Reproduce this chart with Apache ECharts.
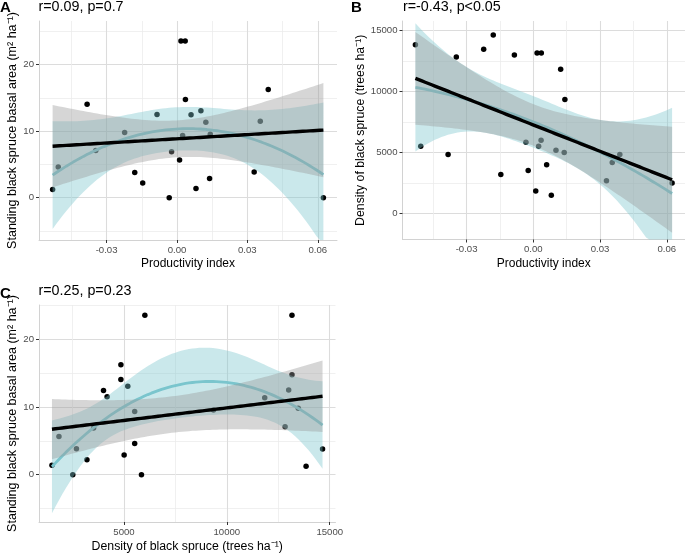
<!DOCTYPE html>
<html>
<head>
<meta charset="utf-8">
<script src="https://cdn.jsdelivr.net/npm/echarts@6/dist/echarts.min.js"></script>
<style>
html,body{margin:0;padding:0;background:#fff;}
#chart{width:685px;height:556px;}
</style>
</head>
<body>
<div id="chart"></div>
<script>
// one entry per site
var productivity = [-0.0530, -0.0506, -0.0383, -0.0346, -0.0223, -0.0180, -0.0146, -0.0085, -0.0033, -0.0023,
    0.0011, 0.0017, 0.0035, 0.0024, 0.0036, 0.0060, 0.0081, 0.0102, 0.0123, 0.0139, 0.0142, 0.0329, 0.0355, 0.0389, 0.0624];
var basalArea = [1.25, 4.6, 14.05, 7.1, 9.8, 3.8, 2.2, 12.5, 0, 6.9,
    5.65, 23.55, 23.55, 9.35, 14.75, 12.45, 1.4, 13.05, 11.35, 2.9, 9.55, 3.85, 11.5, 16.25, 0];
var density = [13850, 5520, 4850, 12830, 13470, 14650, 3200, 13005, 5850, 3525,
    1840, 13165, 6015, 5520, 13165, 4005, 1500, 5185, 11840, 5008, 9350, 2690, 4180, 4850, 2512];

// tick labels / grid lines
var piTicks = [-0.03, 0, 0.03, 0.06];
var piMinor = [-0.045, -0.015, 0.015, 0.045];
var baTicks = [0, 10, 20];
var baMinor = [-5, 5, 15, 25];
var denTicks = [0, 5000, 10000, 15000];
var denMinor = [2500, 7500, 12500];
var denTicksX = [5000, 10000, 15000];

var titles = ["r=0.09, p=0.7", "r=-0.43, p<0.05", "r=0.25, p=0.23"];

var FONT = "Liberation Sans, Arial, sans-serif";
var CYAN = "#7AC5CD";

function invert(M) {
    var n = M.length, A = M.map(function (r, i) {
        var e = new Array(n).fill(0); e[i] = 1;
        return r.slice().concat(e);
    });
    for (var c = 0; c < n; c++) {
        var piv = c;
        for (var r = c + 1; r < n; r++) if (Math.abs(A[r][c]) > Math.abs(A[piv][c])) piv = r;
        var t = A[c]; A[c] = A[piv]; A[piv] = t;
        var d = A[c][c];
        for (var k = 0; k < 2 * n; k++) A[c][k] /= d;
        for (r = 0; r < n; r++) {
            if (r === c) continue;
            var f = A[r][c];
            for (k = 0; k < 2 * n; k++) A[r][k] -= f * A[c][k];
        }
    }
    return A.map(function (r) { return r.slice(n); });
}

// least squares polynomial fit with 95% confidence band (like geom_smooth)
function fitPoly(xs, ys, deg, tq) {
    var n = xs.length, p = deg + 1;
    var mx = xs.reduce(function (a, b) { return a + b; }, 0) / n;
    var sx = Math.sqrt(xs.reduce(function (a, x) { return a + (x - mx) * (x - mx); }, 0) / n);
    function row(x) {
        var z = (x - mx) / sx, r = [];
        for (var k = 0; k < p; k++) r.push(Math.pow(z, k));
        return r;
    }
    function dot(a, b) { var s = 0; for (var i = 0; i < a.length; i++) s += a[i] * b[i]; return s; }
    var A = [], b = [];
    for (var i = 0; i < p; i++) { A.push(new Array(p).fill(0)); b.push(0); }
    xs.forEach(function (x, j) {
        var r = row(x);
        for (var i = 0; i < p; i++) {
            b[i] += r[i] * ys[j];
            for (var k = 0; k < p; k++) A[i][k] += r[i] * r[k];
        }
    });
    var inv = invert(A);
    var beta = inv.map(function (rw) { return dot(rw, b); });
    var rss = 0;
    xs.forEach(function (x, j) { var e = ys[j] - dot(row(x), beta); rss += e * e; });
    var s2 = rss / (n - p);
    return function (x) {
        var r = row(x), f = dot(r, beta), q = 0;
        for (var i = 0; i < p; i++) for (var k = 0; k < p; k++) q += r[i] * inv[i][k] * r[k];
        var se = Math.sqrt(s2 * q);
        return [f, f - tq * se, f + tq * se];
    };
}

// ribbon: one polygon through the upper edge and back along the lower edge
function bandRender(params, api) {
    if (params.dataIndex !== 0) return null;
    var n = params.dataInsideLength, top = [], bot = [];
    for (var i = 0; i < n; i++) {
        top.push(api.coord([api.value(0, i), api.value(2, i)]));
        bot.push(api.coord([api.value(0, i), api.value(1, i)]));
    }
    var pts = echarts.graphic.clipPointsByRect(top.concat(bot.reverse()), params.coordSys);
    return { type: "polygon", shape: { points: pts }, style: api.style() };
}

function smoothSeries(g, xs, ys) {
    var lo = Math.min.apply(null, xs), hi = Math.max.apply(null, xs);
    var grid = [];
    for (var i = 0; i < 80; i++) grid.push(lo + (hi - lo) * i / 79);
    var fits = [
        { f: fitPoly(xs, ys, 2, 2.073873), band: CYAN, line: CYAN, w: 2.8, z: 2 },
        { f: fitPoly(xs, ys, 1, 2.068658), band: "#999999", line: "#000000", w: 3.4, z: 4 }
    ];
    var out = [{
        type: "scatter", xAxisIndex: 2 * g, yAxisIndex: 2 * g, z: 1, silent: true,
        symbolSize: 5.5, itemStyle: { color: "#000", opacity: 1 },
        data: xs.map(function (x, i) { return [x, ys[i]]; })
    }];
    fits.forEach(function (ft) {
        var v = grid.map(function (x) { return ft.f(x); });
        out.push({
            type: "custom", xAxisIndex: 2 * g, yAxisIndex: 2 * g, z: ft.z, silent: true,
            renderItem: bandRender, encode: { x: 0, y: [1, 2] },
            itemStyle: { color: ft.band, opacity: 0.4 },
            data: grid.map(function (x, i) { return [x, v[i][1], v[i][2]]; })
        });
        out.push({
            type: "line", xAxisIndex: 2 * g, yAxisIndex: 2 * g, showSymbol: false, symbol: "none", silent: true,
            z: ft.z + 1, lineStyle: { color: ft.line, width: ft.w },
            data: grid.map(function (x, i) { return [x, v[i][0]]; })
        });
    });
    return out;
}

function axisPair(dim, g, min, max, ticks, minor, fmt, name, gap, nameSize) {
    var major = {
        type: "value", gridIndex: g, min: min, max: max,
        position: dim === "x" ? "bottom" : "left",
        name: name, nameLocation: "middle", nameGap: gap,
        nameTextStyle: { fontSize: nameSize, color: "#000", fontFamily: FONT },
        axisLine: { show: true, onZero: false, lineStyle: { color: "#d2d2d2", width: 1 } },
        axisTick: { show: true, length: 3, customValues: ticks, lineStyle: { color: "#333", width: 1 } },
        axisLabel: { customValues: ticks, formatter: fmt, color: "#4d4d4d", fontSize: 9.6, margin: 5, fontFamily: FONT },
        splitLine: { show: true, lineStyle: { color: "#dcdcdc", width: 1.1 } }
    };
    var min2 = {
        type: "value", gridIndex: g, min: min, max: max,
        position: dim === "x" ? "bottom" : "left",
        axisLine: { show: false, onZero: false },
        axisTick: { show: false, customValues: minor },
        axisLabel: { show: false },
        splitLine: { show: true, lineStyle: { color: "#ececec", width: 0.8 } }
    };
    return [major, min2];
}

function piFmt(v) { return v.toFixed(2); }
function intFmt(v) { return String(Math.round(v)); }

var xAxes = [].concat(
    axisPair("x", 0, -0.0588, 0.0682, piTicks, piMinor, piFmt, "Productivity index", 18, 12),
    axisPair("x", 1, -0.0588, 0.0682, piTicks, piMinor, piFmt, "Productivity index", 18, 12),
    axisPair("x", 2, 870, 15280, denTicksX, denMinor, intFmt, "Density of black spruce (trees ha\u207B\u00B9)", 19, 12.3)
);
var yAxes = [].concat(
    axisPair("y", 0, -6.35, 26.55, baTicks, baMinor, intFmt, "Standing black spruce basal area (m\u00B2 ha\u207B\u00B9)", 19, 12.5),
    axisPair("y", 1, -2130, 15790, denTicks, denMinor, intFmt, "Density of black spruce (trees ha\u207B\u00B9)", 36, 12.3),
    axisPair("y", 2, -6.99, 25.07, baTicks, baMinor, intFmt, "Standing black spruce basal area (m\u00B2 ha\u207B\u00B9)", 19, 12.5)
);

var series = [].concat(
    smoothSeries(0, productivity, basalArea),
    smoothSeries(1, productivity, density),
    smoothSeries(2, density, basalArea)
);

function label(text, left, top, bold) {
    return {
        text: text, left: left, top: top, padding: 0,
        textStyle: { fontSize: bold ? 15 : 14.3, fontWeight: bold ? "bold" : "normal", color: "#000", fontFamily: FONT }
    };
}

var option = {
    animation: false,
    textStyle: { fontFamily: FONT },
    title: [
        label("A", 0, 0, true), label(titles[0], 38.5, 0),
        label("B", 351, 0, true), label(titles[1], 403, 0),
        label("C", 0, 286, true), label(titles[2], 38.5, 284)
    ],
    grid: [
        { left: 39, top: 21, width: 298, height: 219 },
        { left: 402.5, top: 21, width: 282.5, height: 218.5 },
        { left: 39, top: 305, width: 296.5, height: 217 }
    ],
    xAxis: xAxes,
    yAxis: yAxes,
    series: series
};

var chart = echarts.init(document.getElementById("chart"));
chart.setOption(option);
</script>
</body>
</html>
